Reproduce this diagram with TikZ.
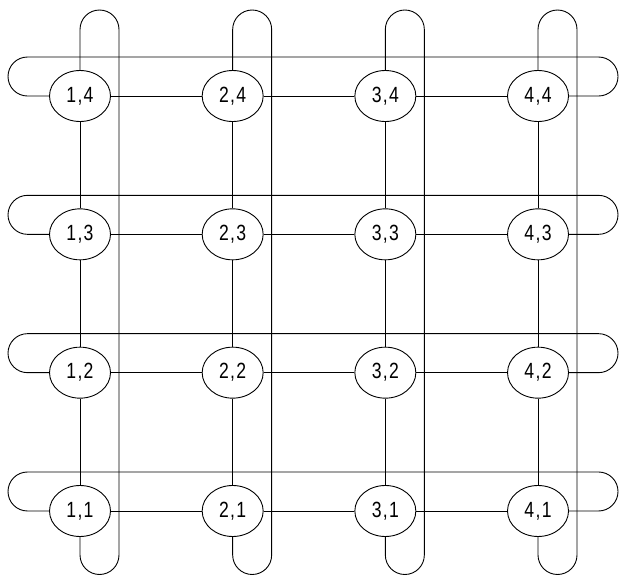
\documentclass[tikz,border=0pt]{standalone}
\usepackage{fontspec}
\newfontfamily\gridfont[FakeStretch=0.8, LetterSpace=6]{Liberation Sans}
\usepackage{tikz}
\usetikzlibrary{positioning, calc, shapes.geometric}

\begin{document}
\begin{tikzpicture}[
    x=1pt, y=1pt,
    pe/.style={ellipse, draw, fill=white, line width=0.9pt,
               minimum width=61pt, minimum height=51pt, inner sep=0pt,
               font=\gridfont\fontsize{22}{22}\selectfont},
    link/.style={line width=0.9pt},
    wrap/.style={line width=0.9pt, rounded corners=19.5pt},
  ]
    \useasboundingbox (0,0) rectangle (619,576);

    % Processing elements: 4 x 4 grid
    \foreach \i in {1,...,4} {
      \foreach \j in {1,...,4} {
        \node[pe] (P\i\j) at ({80+(\i-1)*152.67}, {65+(\j-1)*138.33}) {\i,\j};
      }
    }

    % Mesh links between neighbours
    \foreach \i [evaluate=\i as \k using int(\i+1)] in {1,...,3} {
      \foreach \j in {1,...,4} {
        \draw[link] (P\i\j) -- (P\k\j);
        \draw[link] (P\j\i) -- (P\j\k);
      }
    }

    % Row wrap-around
    \foreach \j in {1,...,4} {
      \coordinate (RE\j) at ($(P4\j)+(80,0)$);
      \coordinate (RW\j) at ($(P1\j)+(-72,39)$);
      \draw[wrap] (P4\j.east) -- (RE\j) |- (RW\j) |- (P1\j.west);
    }

    % Column wrap-around
    \foreach \i in {1,...,4} {
      \coordinate (CN\i) at ($(P\i4)+(0,86)$);
      \coordinate (CS\i) at ($(P\i1)+(39,-63.5)$);
      \draw[wrap] (P\i4.north) -- (CN\i) -| (CS\i) -| (P\i1.south);
    }
  \end{tikzpicture}
\end{document}
